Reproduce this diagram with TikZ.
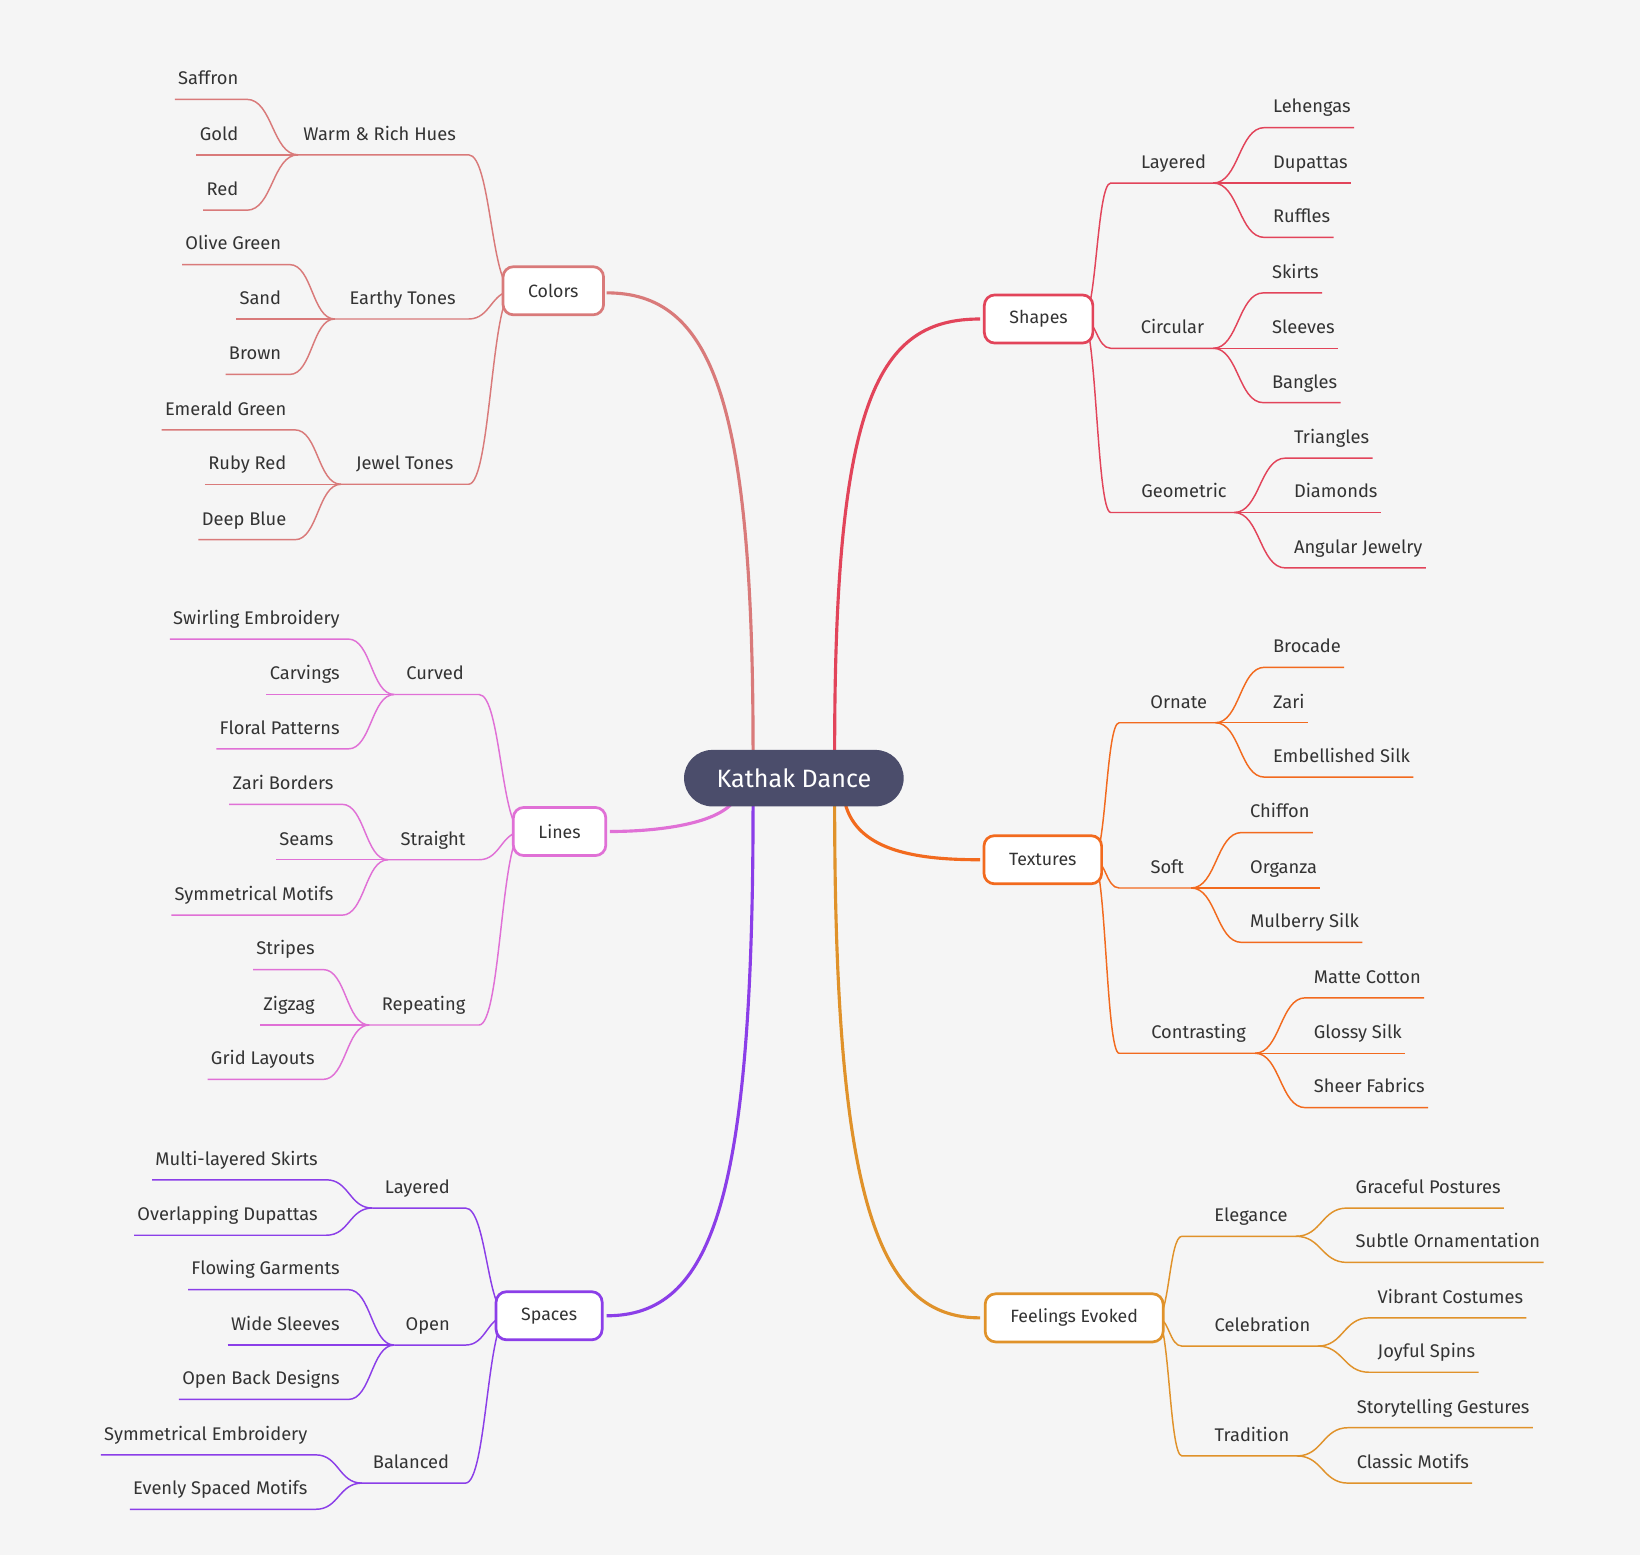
\documentclass[tikz,border=0pt]{standalone}
\usepackage{fontspec}
\setmainfont{Fira Sans}
\newcounter{nc}
\definecolor{bg}{HTML}{F5F5F5}
\definecolor{cC}{HTML}{D97A7A}
\definecolor{cL}{HTML}{E070D6}
\definecolor{cS}{HTML}{8B3EE8}
\definecolor{cH}{HTML}{E2445A}
\definecolor{cT}{HTML}{F26A1E}
\definecolor{cF}{HTML}{E0922A}
\definecolor{cK}{HTML}{4B4D6B}
\definecolor{tx}{HTML}{333333}
\tikzset{
 leaf/.style={inner sep=0pt,text=tx,font=\fontsize{17.5}{20}\selectfont},
 sub/.style={line width=1.4pt},
 mainlink/.style={line width=3pt},
 mainbox/.style={draw,line width=2.6pt,rounded corners=10pt,fill=white,minimum height=46pt,inner xsep=24pt,text=tx,font=\fontsize{17}{20}\selectfont},
}
\newcommand\LL[6]{\stepcounter{nc}%
 \node[leaf,anchor=base east] (n\thenc) at (#3,#4-14) {#2};
 \coordinate (t\thenc) at (#3+8,#4);
 \draw[#1,sub] ([xshift=-3pt]n\thenc.west |- t\thenc) -- (t\thenc) .. controls ({(#3+8+#5)/2},#4) and ({(#3+8+#5)/2},#6) .. (#5,#6);}
\newcommand\RL[6]{\stepcounter{nc}%
 \node[leaf,anchor=base west] (n\thenc) at (#3,#4-14) {#2};
 \coordinate (t\thenc) at (#3-8,#4);
 \draw[#1,sub] (#5,#6) .. controls ({(#3-8+#5)/2},#6) and ({(#3-8+#5)/2},#4) .. (t\thenc) -- ([xshift=3pt]n\thenc.east |- t\thenc);}
% color,text,cx,y,jx,ex,sx,sy
\newcommand\SB[8]{\stepcounter{nc}%
 \node[leaf,anchor=base] (n\thenc) at (#3,#4-14) {#2};
 \draw[#1,sub] (#5,#4) -- (#6,#4) .. controls ({(#6+#7)/2},#4) and ({(#6+#7)/2},#8) .. (#7,#8);}
\begin{document}
\begin{tikzpicture}[x=1pt,y=-1pt]
\fill[bg] (0,0) rectangle (1568,1487);
\useasboundingbox (0,0) rectangle (1568,1487);
% main links
\coordinate (pC) at (720,717); \coordinate (pS) at (720,770); \coordinate (pL) at (700,768);
\coordinate (pH) at (798,717); \coordinate (pT) at (808,768); \coordinate (pF) at (798,770);
\draw[cC,mainlink] (pC) .. controls (720,380) and (680,280) .. (580,280);
\draw[cS,mainlink] (pS) .. controls (720,1150) and (680,1258) .. (580,1258);
\draw[cL,mainlink] (pL) .. controls (680,790) and (620,795) .. (583,795);
\draw[cH,mainlink] (pH) .. controls (798,380) and (840,305) .. (937,305);
\draw[cT,mainlink] (pT) .. controls (820,815) and (880,822) .. (937,822);
\draw[cF,mainlink] (pF) .. controls (798,1150) and (840,1260) .. (937,1260);
% Colors
\SB{cC}{Warm \& Rich Hues}{363}{148}{285}{448}{491}{278}
\LL{cC}{Saffron}{228}{95}{285}{148}\LL{cC}{Gold}{228}{148}{285}{148}\LL{cC}{Red}{228}{201}{285}{148}
\SB{cC}{Earthy Tones}{385}{305}{320}{448}{491}{278}
\LL{cC}{Olive Green}{269}{253}{320}{305}\LL{cC}{Sand}{269}{305}{320}{305}\LL{cC}{Brown}{269}{358}{320}{305}
\SB{cC}{Jewel Tones}{387}{463}{326}{448}{491}{278}
\LL{cC}{Emerald Green}{274}{411}{326}{463}\LL{cC}{Ruby Red}{274}{463}{326}{463}\LL{cC}{Deep Blue}{274}{516}{326}{463}
% Lines
\SB{cL}{Curved}{416}{664}{377}{458}{500}{795}
\LL{cL}{Swirling Embroidery}{325}{611}{377}{664}\LL{cL}{Carvings}{325}{664}{377}{664}\LL{cL}{Floral Patterns}{325}{716}{377}{664}
\SB{cL}{Straight}{414}{822}{371}{458}{500}{795}
\LL{cL}{Zari Borders}{319}{769}{371}{822}\LL{cL}{Seams}{319}{822}{371}{822}\LL{cL}{Symmetrical Motifs}{319}{875}{371}{822}
\SB{cL}{Repeating}{405}{980}{353}{458}{500}{795}
\LL{cL}{Stripes}{301}{927}{353}{980}\LL{cL}{Zigzag}{301}{980}{353}{980}\LL{cL}{Grid Layouts}{301}{1032}{353}{980}
% Spaces
\SB{cS}{Layered}{399}{1155}{356}{445}{486}{1258}
\LL{cS}{Multi-layered Skirts}{304}{1128}{356}{1155}\LL{cS}{Overlapping Dupattas}{304}{1181}{356}{1155}
\SB{cS}{Open}{409}{1286}{377}{445}{486}{1258}
\LL{cS}{Flowing Garments}{325}{1233}{377}{1286}\LL{cS}{Wide Sleeves}{325}{1286}{377}{1286}\LL{cS}{Open Back Designs}{325}{1338}{377}{1286}
\SB{cS}{Balanced}{393}{1418}{346}{445}{486}{1258}
\LL{cS}{Symmetrical Embroidery}{294}{1391}{346}{1418}\LL{cS}{Evenly Spaced Motifs}{294}{1443}{346}{1418}
% Shapes
\SB{cH}{Layered}{1122}{175}{1160}{1062}{1035}{305}
\RL{cH}{Lehengas}{1217}{122}{1160}{175}\RL{cH}{Dupattas}{1217}{175}{1160}{175}\RL{cH}{Ruffles}{1217}{227}{1160}{175}
\SB{cH}{Circular}{1121}{333}{1160}{1062}{1035}{305}
\RL{cH}{Skirts}{1216}{280}{1160}{333}\RL{cH}{Sleeves}{1216}{333}{1160}{333}\RL{cH}{Bangles}{1216}{385}{1160}{333}
\SB{cH}{Geometric}{1132}{490}{1180}{1062}{1035}{305}
\RL{cH}{Triangles}{1237}{438}{1180}{490}\RL{cH}{Diamonds}{1237}{490}{1180}{490}\RL{cH}{Angular Jewelry}{1237}{543}{1180}{490}
% Textures
\SB{cT}{Ornate}{1127}{691}{1162}{1070}{1045}{822}
\RL{cT}{Brocade}{1217}{638}{1162}{691}\RL{cT}{Zari}{1217}{691}{1162}{691}\RL{cT}{Embellished Silk}{1217}{743}{1162}{691}
\SB{cT}{Soft}{1116}{849}{1139}{1070}{1045}{822}
\RL{cT}{Chiffon}{1195}{796}{1139}{849}\RL{cT}{Organza}{1195}{849}{1139}{849}\RL{cT}{Mulberry Silk}{1195}{901}{1139}{849}
\SB{cT}{Contrasting}{1146}{1007}{1200}{1070}{1045}{822}
\RL{cT}{Matte Cotton}{1256}{954}{1200}{1007}\RL{cT}{Glossy Silk}{1256}{1007}{1200}{1007}\RL{cT}{Sheer Fabrics}{1256}{1059}{1200}{1007}
% Feelings
\SB{cF}{Elegance}{1196}{1182}{1239}{1130}{1106}{1260}
\RL{cF}{Graceful Postures}{1296}{1155}{1239}{1182}\RL{cF}{Subtle Ornamentation}{1296}{1207}{1239}{1182}
\SB{cF}{Celebration}{1207}{1287}{1260}{1130}{1106}{1260}
\RL{cF}{Vibrant Costumes}{1317}{1260}{1260}{1287}\RL{cF}{Joyful Spins}{1317}{1312}{1260}{1287}
\SB{cF}{Tradition}{1197}{1392}{1240}{1130}{1106}{1260}
\RL{cF}{Storytelling Gestures}{1297}{1365}{1240}{1392}\RL{cF}{Classic Motifs}{1297}{1418}{1240}{1392}
% main nodes
\node[mainbox,draw=cC] (colors) at (529,278) {Colors};
\node[mainbox,draw=cL] (lines) at (535,795) {Lines};
\node[mainbox,draw=cS] (spaces) at (525,1258) {Spaces};
\node[mainbox,draw=cH] (shapes) at (993,305) {Shapes};
\node[mainbox,draw=cT] (textures) at (997,822) {Textures};
\node[mainbox,draw=cF] (feel) at (1027,1260) {Feelings Evoked};
\node[fill=cK,text=white,rounded corners=27pt,minimum height=54pt,minimum width=210pt,font=\fontsize{24}{28}\selectfont] (center) at (759,744) {Kathak Dance};
\end{tikzpicture}
\end{document}
